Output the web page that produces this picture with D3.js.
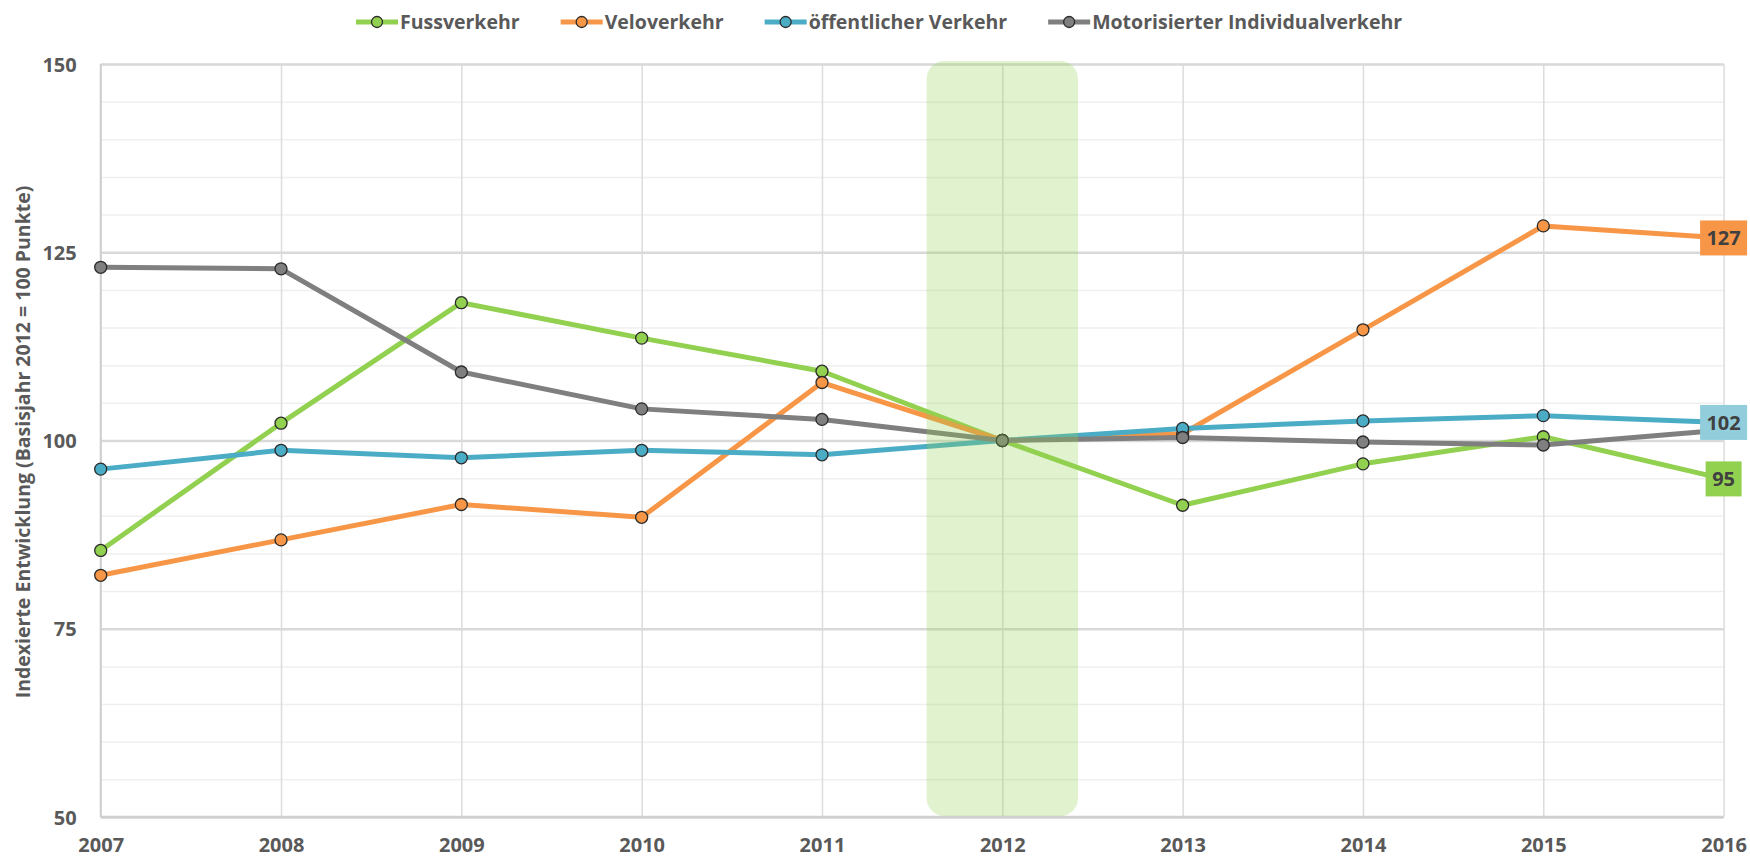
<!DOCTYPE html>
<html>
<head>
<meta charset="utf-8">
<script src="https://cdn.jsdelivr.net/npm/d3@7"></script>
<style>
  body { margin: 0; background: #fff; }
  svg text { font-family: "Open Sans", sans-serif; font-weight: 700; fill: #595959; }
</style>
</head>
<body>
<script>
// Indexierte Entwicklung der Verkehrsarten, 2012 = 100

var W = 1750, H = 857;
var plotL = 100.7, plotR = 1723.6, plotT = 64, plotB = 817;

// data
var years = [2007, 2008, 2009, 2010, 2011, 2012, 2013, 2014, 2015, 2016];
var fuss = [85.4, 102.3, 118.3, 113.6, 109.2, 100, 91.4, 96.9, 100.5, 94.9];
var velo = [82.1, 86.8, 91.5, 89.8, 107.7, 100, 100.9, 114.7, 128.5, 126.9];
var oev  = [96.2, 98.7, 97.7, 98.7, 98.1, 100, 101.6, 102.6, 103.3, 102.4];
var miv  = [123.0, 122.8, 109.1, 104.2, 102.8, 100, 100.4, 99.8, 99.4, 101.4];
var seriesNames = ["Fussverkehr", "Veloverkehr", "öffentlicher Verkehr", "Motorisierter Individualverkehr"];
var yTicks = [50, 75, 100, 125, 150];
var highlightYear = 2012;

var series = [
  { name: seriesNames[0], values: fuss, color: "#92d050", box: "#92d050", label: true },
  { name: seriesNames[1], values: velo, color: "#f79646", box: "#f79646", label: true },
  { name: seriesNames[2], values: oev,  color: "#4bacc6", box: "#92cddc", label: true },
  { name: seriesNames[3], values: miv,  color: "#7f7f7f", box: null, label: false }
];

var x = d3.scaleLinear().domain([years[0], years[years.length - 1]]).range([plotL, plotR]);
var y = d3.scaleLinear().domain([50, 150]).range([plotB, plotT]);

var svg = d3.select("body").append("svg")
    .attr("width", W)
    .attr("height", H);

// minor grid (every 5 points)
svg.append("g")
    .attr("transform", "translate(" + plotL + ",0)")
    .call(d3.axisLeft(y).tickValues(d3.range(50, 151, 5)).tickSize(-(plotR - plotL)).tickFormat(""))
    .call(function(g) {
      g.select(".domain").remove();
      g.selectAll("line").attr("stroke", "#efefef").attr("stroke-width", 1.5);
    });

// vertical grid
svg.append("g")
    .attr("transform", "translate(0," + plotB + ")")
    .call(d3.axisBottom(x).tickValues(years).tickSize(-(plotB - plotT)).tickFormat(""))
    .call(function(g) {
      g.select(".domain").remove();
      g.selectAll("line").attr("stroke", "#dcdcdc").attr("stroke-width", 1.5);
    });

// major grid + y labels
svg.append("g")
    .attr("transform", "translate(" + plotL + ",0)")
    .call(d3.axisLeft(y).tickValues(yTicks).tickSize(-(plotR - plotL)).tickPadding(24).tickFormat(d3.format("d")))
    .call(function(g) {
      g.select(".domain").remove();
      g.selectAll("line").attr("stroke", "#d9d9d9").attr("stroke-width", 2.5);
      g.selectAll("text").attr("font-size", 20).attr("dy", "0.36em").attr("font-family", null);
    });

// axis lines
svg.append("line")
    .attr("x1", plotL).attr("x2", plotL).attr("y1", plotT).attr("y2", plotB)
    .attr("stroke", "#d0d0d0").attr("stroke-width", 2);
svg.append("line")
    .attr("x1", plotL).attr("x2", plotR).attr("y1", plotB).attr("y2", plotB)
    .attr("stroke", "#d0d0d0").attr("stroke-width", 2.5);

// x labels
svg.append("g")
    .attr("transform", "translate(0," + plotB + ")")
    .call(d3.axisBottom(x).tickValues(years).tickSize(0).tickPadding(21).tickFormat(d3.format("d")))
    .call(function(g) {
      g.select(".domain").remove();
      g.selectAll("text").attr("font-size", 20).attr("dy", "0.71em").attr("font-family", null);
    });

// y title
svg.append("text")
    .attr("transform", "translate(30,442) rotate(-90)")
    .attr("text-anchor", "middle")
    .attr("font-size", 19.5)
    .text("Indexierte Entwicklung (Basisjahr 2012 = 100 Punkte)");

// lines and markers
var line = d3.line()
    .x(function(d, i) { return x(years[i]); })
    .y(function(d) { return y(d); });

series.forEach(function(s) {
  var g = svg.append("g");
  g.append("path")
      .attr("d", line(s.values))
      .attr("fill", "none")
      .attr("stroke", s.color)
      .attr("stroke-width", 5)
      .attr("stroke-linejoin", "round");
  g.selectAll("circle")
      .data(s.values)
      .enter()
      .append("circle")
      .attr("cx", function(d, i) { return x(years[i]); })
      .attr("cy", function(d) { return y(d); })
      .attr("r", 6)
      .attr("fill", s.color)
      .attr("stroke", "#2b2b2b")
      .attr("stroke-width", 1.3);
});

// highlighted base year
svg.append("rect")
    .attr("x", x(highlightYear - 0.42))
    .attr("y", plotT - 3)
    .attr("width", x(highlightYear + 0.42) - x(highlightYear - 0.42))
    .attr("height", plotB - plotT + 2)
    .attr("rx", 18)
    .attr("fill", "#92d050")
    .attr("fill-opacity", 0.28);

// end labels
var last = years.length - 1;
series.filter(function(s) { return s.label; }).forEach(function(s) {
  var v = s.values[last];
  var t = String(Math.round(v));
  var bw = t.length === 3 ? 47 : 36;
  svg.append("rect")
      .attr("x", x(years[last]) - bw / 2)
      .attr("y", y(v) - 17.5)
      .attr("width", bw)
      .attr("height", 35)
      .attr("fill", s.box);
  svg.append("text")
      .attr("x", x(years[last]))
      .attr("y", y(v))
      .attr("dy", "0.36em")
      .attr("text-anchor", "middle")
      .attr("font-size", 20)
      .style("fill", "#404040")
      .text(t);
});

// legend
var lx = 356, ly = 22;
series.forEach(function(s) {
  var g = svg.append("g");
  g.append("line")
      .attr("x1", lx).attr("x2", lx + 42).attr("y1", ly).attr("y2", ly)
      .attr("stroke", s.color).attr("stroke-width", 5);
  g.append("circle")
      .attr("cx", lx + 21).attr("cy", ly).attr("r", 5.5)
      .attr("fill", s.color).attr("stroke", "#2b2b2b").attr("stroke-width", 1.3);
  var txt = g.append("text")
      .attr("x", lx + 44)
      .attr("y", ly)
      .attr("dy", "0.36em")
      .attr("font-size", 19.5)
      .text(s.name);
  lx = lx + 44 + txt.node().getComputedTextLength() + 41;
});
</script>
</body>
</html>
